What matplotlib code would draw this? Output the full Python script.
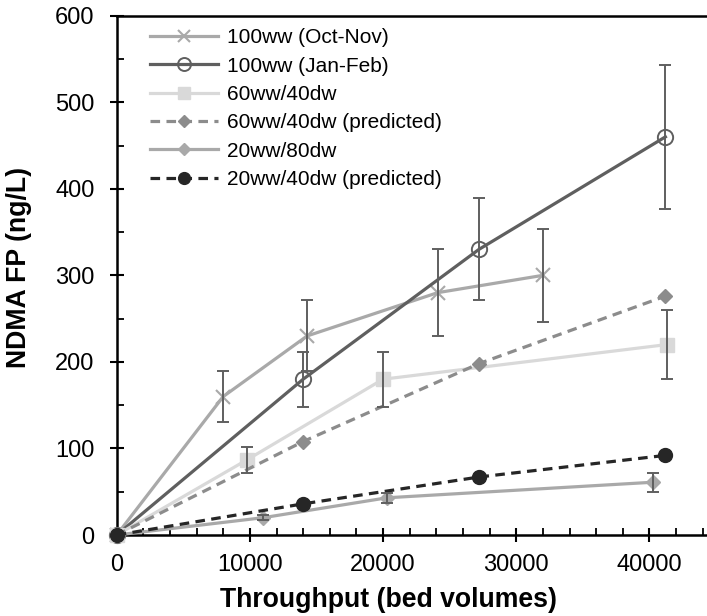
import matplotlib
matplotlib.use("Agg")
import matplotlib.pyplot as plt
from matplotlib.ticker import MultipleLocator

plt.rcParams['font.family'] = ['Liberation Sans', 'DejaVu Sans']

# 100ww (Oct-Nov)
oct_x = [0, 8000, 14300, 24100, 32000]
oct_y = [0, 160, 230, 280, 300]
oct_err = [0, 29, 41, 50, 54]

# 100ww (Jan-Feb)
jan_x = [0, 14000, 27200, 41200]
jan_y = [0, 180, 330, 460]
jan_err = [0, 32, 59, 83]

# 60ww/40dw
m60_x = [0, 9800, 20000, 41300]
m60_y = [0, 87, 180, 220]
m60_err = [0, 15, 32, 40]

# 60ww/40dw (predicted)
p60_x = [0, 14000, 27200, 41200]
p60_y = [0, 108, 198, 276]

# 20ww/80dw
m20_x = [0, 11000, 20300, 40300]
m20_y = [0, 20, 43, 61]
m20_err = [0, 3, 6, 11]

# 20ww/40dw (predicted)
p20_x = [0, 14000, 27200, 41200]
p20_y = [0, 36, 67, 92]

x_ticks = [0, 10000, 20000, 30000, 40000]
y_ticks = [0, 100, 200, 300, 400, 500, 600]

ERR_COLOR = "#5f5f5f"
LW = 2.3

fig = plt.figure(figsize=(7.07, 6.16), dpi=100)
ax = fig.add_axes([116.7/707, 81/616, (716-116.7)/707, (535-15.7)/616])


def draw_err(x, y, e):
    # skip the origin point, it has no error bar
    ax.errorbar(x[1:], y[1:], yerr=e[1:], fmt='none', ecolor=ERR_COLOR,
                elinewidth=1.4, capsize=4.5, capthick=1.4, zorder=5)


ax.plot(oct_x, oct_y, color="#a9a9a9", lw=LW, marker='x', ms=10, mew=1.5,
        label="100ww (Oct-Nov)", clip_on=False, zorder=3)
ax.plot(jan_x, jan_y, color="#5f5f5f", lw=LW, marker='o', ms=11, mfc='none',
        mew=1.4, label="100ww (Jan-Feb)", clip_on=False, zorder=3)
ax.plot(m60_x, m60_y, color="#d9d9d9", lw=LW, marker='s', ms=10,
        label="60ww/40dw", clip_on=False, zorder=3)
ax.plot(p60_x, p60_y, color="#8c8c8c", lw=LW, ls=(0, (3, 2)), marker='D', ms=7,
        label="60ww/40dw (predicted)", clip_on=False, zorder=3)
ax.plot(m20_x, m20_y, color="#a9a9a9", lw=LW, marker='D', ms=7,
        label="20ww/80dw", clip_on=False, zorder=3)
ax.plot(p20_x, p20_y, color="#262626", lw=LW, ls=(0, (3, 2)), marker='o', ms=10,
        label="20ww/40dw (predicted)", clip_on=False, zorder=4)

draw_err(oct_x, oct_y, oct_err)
draw_err(jan_x, jan_y, jan_err)
draw_err(m60_x, m60_y, m60_err)
draw_err(m20_x, m20_y, m20_err)

ax.set_xlim(0, 45000)
ax.set_ylim(0, 600)
ax.set_xticks(x_ticks)
ax.set_yticks(y_ticks)
ax.xaxis.set_minor_locator(MultipleLocator(2000))
ax.yaxis.set_minor_locator(MultipleLocator(50))
ax.tick_params(which='major', direction='inout', length=10, width=1.5,
               labelsize=17)
ax.tick_params(axis='x', which='major', pad=9)
ax.tick_params(axis='y', which='major', pad=11)
ax.tick_params(which='minor', direction='in', length=5, width=1.3)

for s in ax.spines.values():
    s.set_linewidth(1.8)
ax.spines['right'].set_visible(False)

ax.set_xlabel("Throughput (bed volumes)", fontsize=19.2, fontweight='bold')
ax.set_ylabel("NDMA FP (ng/L)", fontsize=19.2, fontweight='bold')
ax.xaxis.set_label_coords(0.4527, -0.100)
ax.yaxis.set_label_coords(-0.1413, 0.516)

ax.legend(loc='upper left', frameon=False, fontsize=15, handlelength=3.3,
          labelspacing=0.45, borderaxespad=0.4, handletextpad=0.4,
          markerscale=0.85, bbox_to_anchor=(0.027, 1.008))

fig.savefig("out.png", dpi=100)
